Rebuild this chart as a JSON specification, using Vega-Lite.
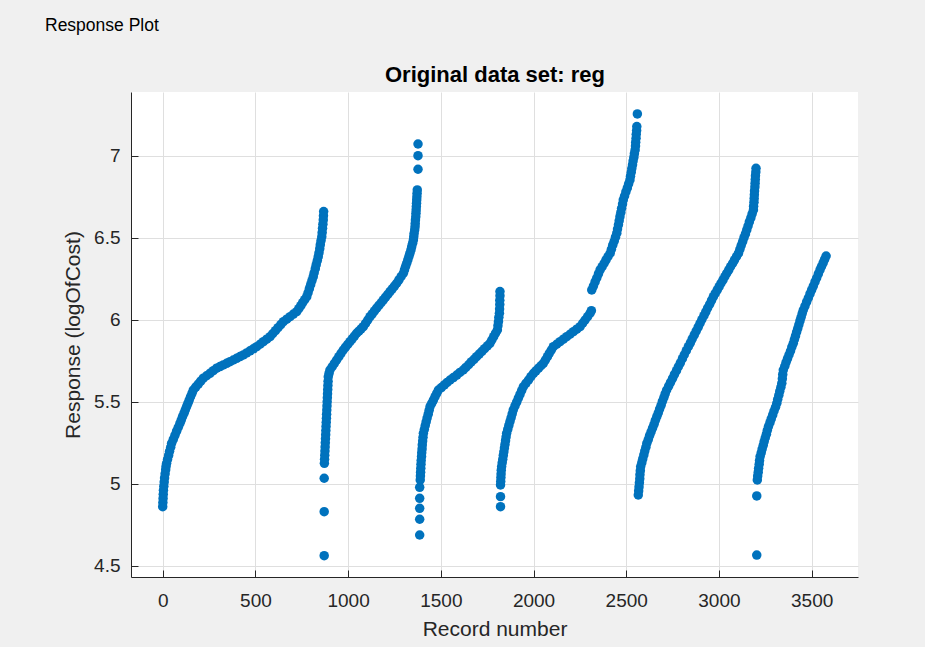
{
  "$schema": "https://vega.github.io/schema/vega-lite/v6.json",
  "width": 727,
  "height": 485,
  "autosize": {"type": "none"},
  "padding": {"left": 131, "top": 92, "right": 67, "bottom": 70},
  "background": "#f0f0f0",
  "title": {"text": "Response Plot", "anchor": "start", "frame": "group", "fontSize": 17.5, "fontWeight": "normal", "color": "#000000", "font": "Liberation Sans", "dx": -86, "offset": 29},
  "config": {"view": {"fill": "#ffffff", "stroke": null}, "font": "Liberation Sans"},
  "data": {"values": [
{"record":0,"response":4.86},{"record":1,"response":4.885},{"record":2,"response":4.91},{"record":3,"response":4.935},{"record":4,"response":4.96},{"record":6,"response":4.985},{"record":8,"response":5.01},{"record":10,"response":5.035},{"record":13,"response":5.06},{"record":16,"response":5.085},{"record":18,"response":5.105},{"record":21,"response":5.124},{"record":26,"response":5.148},{"record":32,"response":5.172},{"record":37,"response":5.197},{"record":43,"response":5.222},{"record":48,"response":5.246},{"record":57,"response":5.27},{"record":66,"response":5.295},{"record":75,"response":5.32},{"record":84,"response":5.344},{"record":93,"response":5.368},{"record":100,"response":5.388},{"record":107,"response":5.409},{"record":115,"response":5.43},{"record":122,"response":5.45},{"record":129,"response":5.47},{"record":136,"response":5.49},{"record":143,"response":5.51},{"record":150,"response":5.53},{"record":158,"response":5.551},{"record":165,"response":5.571},{"record":178,"response":5.589},{"record":192,"response":5.607},{"record":205,"response":5.625},{"record":219,"response":5.643},{"record":237,"response":5.658},{"record":255,"response":5.673},{"record":273,"response":5.689},{"record":291,"response":5.704},{"record":309,"response":5.714},{"record":327,"response":5.724},{"record":345,"response":5.734},{"record":363,"response":5.744},{"record":381,"response":5.754},{"record":399,"response":5.764},{"record":417,"response":5.775},{"record":435,"response":5.785},{"record":453,"response":5.797},{"record":471,"response":5.81},{"record":489,"response":5.822},{"record":507,"response":5.835},{"record":525,"response":5.85},{"record":543,"response":5.866},{"record":561,"response":5.881},{"record":579,"response":5.896},{"record":593,"response":5.914},{"record":608,"response":5.933},{"record":622,"response":5.951},{"record":637,"response":5.97},{"record":651,"response":5.988},{"record":669,"response":6.003},{"record":687,"response":6.018},{"record":705,"response":6.034},{"record":723,"response":6.049},{"record":734,"response":6.067},{"record":745,"response":6.085},{"record":755,"response":6.104},{"record":766,"response":6.122},{"record":777,"response":6.14},{"record":784,"response":6.164},{"record":791,"response":6.189},{"record":798,"response":6.213},{"record":805,"response":6.238},{"record":812,"response":6.262},{"record":817,"response":6.286},{"record":823,"response":6.311},{"record":828,"response":6.335},{"record":834,"response":6.36},{"record":839,"response":6.384},{"record":843,"response":6.408},{"record":847,"response":6.433},{"record":850,"response":6.457},{"record":854,"response":6.482},{"record":858,"response":6.506},{"record":860,"response":6.531},{"record":862,"response":6.557},{"record":864,"response":6.582},{"record":866,"response":6.608},{"record":867,"response":6.633},{"record":868,"response":6.659},
{"record":871,"response":4.561},{"record":871,"response":4.829},{"record":871,"response":5.033},{"record":872,"response":5.124},{"record":873,"response":5.149},{"record":874,"response":5.174},{"record":875,"response":5.199},{"record":876,"response":5.224},{"record":877,"response":5.249},{"record":878,"response":5.274},{"record":879,"response":5.299},{"record":880,"response":5.324},{"record":881,"response":5.349},{"record":882,"response":5.374},{"record":883,"response":5.399},{"record":884,"response":5.424},{"record":885,"response":5.449},{"record":886,"response":5.474},{"record":887,"response":5.499},{"record":888,"response":5.524},{"record":889,"response":5.549},{"record":890,"response":5.574},{"record":891,"response":5.599},{"record":892,"response":5.624},{"record":893,"response":5.652},{"record":897,"response":5.672},{"record":902,"response":5.693},{"record":914,"response":5.713},{"record":926,"response":5.734},{"record":938,"response":5.754},{"record":950,"response":5.774},{"record":962,"response":5.795},{"record":974,"response":5.815},{"record":986,"response":5.832},{"record":998,"response":5.849},{"record":1010,"response":5.866},{"record":1022,"response":5.883},{"record":1034,"response":5.9},{"record":1046,"response":5.917},{"record":1058,"response":5.93},{"record":1070,"response":5.944},{"record":1082,"response":5.957},{"record":1094,"response":5.977},{"record":1106,"response":5.998},{"record":1118,"response":6.018},{"record":1130,"response":6.035},{"record":1142,"response":6.053},{"record":1154,"response":6.07},{"record":1166,"response":6.087},{"record":1178,"response":6.103},{"record":1190,"response":6.12},{"record":1202,"response":6.137},{"record":1214,"response":6.154},{"record":1226,"response":6.171},{"record":1238,"response":6.188},{"record":1250,"response":6.205},{"record":1262,"response":6.222},{"record":1274,"response":6.242},{"record":1286,"response":6.263},{"record":1298,"response":6.283},{"record":1304,"response":6.303},{"record":1310,"response":6.324},{"record":1316,"response":6.344},{"record":1322,"response":6.364},{"record":1328,"response":6.385},{"record":1333,"response":6.405},{"record":1339,"response":6.425},{"record":1343,"response":6.445},{"record":1348,"response":6.466},{"record":1352,"response":6.486},{"record":1354,"response":6.506},{"record":1356,"response":6.526},{"record":1359,"response":6.547},{"record":1361,"response":6.567},{"record":1362,"response":6.587},{"record":1363,"response":6.608},{"record":1365,"response":6.628},{"record":1366,"response":6.649},{"record":1367,"response":6.669},{"record":1368,"response":6.69},{"record":1369,"response":6.71},{"record":1370,"response":6.73},{"record":1371,"response":6.75},{"record":1372,"response":6.77},{"record":1373,"response":6.791},{"record":1377,"response":6.917},{"record":1377,"response":7.0},{"record":1377,"response":7.071},
{"record":1386,"response":4.687},{"record":1386,"response":4.783},{"record":1386,"response":4.85},{"record":1386,"response":4.911},{"record":1386,"response":4.978},{"record":1389,"response":5.023},{"record":1390,"response":5.047},{"record":1391,"response":5.07},{"record":1392,"response":5.094},{"record":1393,"response":5.118},{"record":1394,"response":5.141},{"record":1396,"response":5.165},{"record":1397,"response":5.189},{"record":1399,"response":5.212},{"record":1400,"response":5.236},{"record":1402,"response":5.26},{"record":1404,"response":5.283},{"record":1406,"response":5.307},{"record":1411,"response":5.33},{"record":1416,"response":5.354},{"record":1421,"response":5.377},{"record":1426,"response":5.4},{"record":1432,"response":5.424},{"record":1437,"response":5.447},{"record":1442,"response":5.47},{"record":1451,"response":5.49},{"record":1460,"response":5.51},{"record":1469,"response":5.531},{"record":1478,"response":5.551},{"record":1487,"response":5.571},{"record":1503,"response":5.586},{"record":1519,"response":5.602},{"record":1534,"response":5.617},{"record":1550,"response":5.632},{"record":1568,"response":5.647},{"record":1586,"response":5.662},{"record":1603,"response":5.678},{"record":1621,"response":5.693},{"record":1635,"response":5.709},{"record":1650,"response":5.725},{"record":1664,"response":5.742},{"record":1679,"response":5.758},{"record":1693,"response":5.774},{"record":1707,"response":5.79},{"record":1722,"response":5.807},{"record":1736,"response":5.823},{"record":1751,"response":5.84},{"record":1765,"response":5.856},{"record":1775,"response":5.876},{"record":1785,"response":5.896},{"record":1795,"response":5.917},{"record":1805,"response":5.937},{"record":1808,"response":5.963},{"record":1811,"response":5.988},{"record":1813,"response":6.014},{"record":1816,"response":6.039},{"record":1817,"response":6.065},{"record":1818,"response":6.092},{"record":1818,"response":6.118},{"record":1819,"response":6.145},{"record":1819,"response":6.171},
{"record":1822,"response":4.86},{"record":1822,"response":4.921},{"record":1822,"response":4.992},{"record":1823,"response":5.014},{"record":1824,"response":5.037},{"record":1825,"response":5.059},{"record":1826,"response":5.082},{"record":1828,"response":5.104},{"record":1831,"response":5.127},{"record":1834,"response":5.149},{"record":1837,"response":5.172},{"record":1840,"response":5.194},{"record":1843,"response":5.217},{"record":1846,"response":5.239},{"record":1849,"response":5.262},{"record":1852,"response":5.284},{"record":1855,"response":5.307},{"record":1861,"response":5.331},{"record":1867,"response":5.355},{"record":1873,"response":5.379},{"record":1879,"response":5.402},{"record":1885,"response":5.426},{"record":1891,"response":5.45},{"record":1900,"response":5.474},{"record":1909,"response":5.497},{"record":1918,"response":5.521},{"record":1927,"response":5.544},{"record":1936,"response":5.568},{"record":1945,"response":5.591},{"record":1959,"response":5.612},{"record":1973,"response":5.632},{"record":1986,"response":5.653},{"record":2000,"response":5.673},{"record":2013,"response":5.688},{"record":2027,"response":5.704},{"record":2040,"response":5.719},{"record":2053,"response":5.734},{"record":2064,"response":5.754},{"record":2075,"response":5.774},{"record":2085,"response":5.795},{"record":2096,"response":5.815},{"record":2107,"response":5.835},{"record":2125,"response":5.85},{"record":2143,"response":5.866},{"record":2161,"response":5.881},{"record":2179,"response":5.896},{"record":2197,"response":5.911},{"record":2215,"response":5.927},{"record":2233,"response":5.942},{"record":2251,"response":5.957},{"record":2265,"response":5.978},{"record":2278,"response":5.998},{"record":2292,"response":6.019},{"record":2305,"response":6.039},{"record":2312,"response":6.055},{"record":2314,"response":6.181},{"record":2323,"response":6.205},{"record":2332,"response":6.23},{"record":2341,"response":6.254},{"record":2350,"response":6.279},{"record":2359,"response":6.303},{"record":2370,"response":6.323},{"record":2381,"response":6.344},{"record":2391,"response":6.364},{"record":2402,"response":6.385},{"record":2413,"response":6.405},{"record":2420,"response":6.429},{"record":2427,"response":6.454},{"record":2435,"response":6.478},{"record":2442,"response":6.503},{"record":2449,"response":6.527},{"record":2453,"response":6.552},{"record":2458,"response":6.578},{"record":2462,"response":6.603},{"record":2466,"response":6.628},{"record":2471,"response":6.654},{"record":2475,"response":6.679},{"record":2480,"response":6.705},{"record":2484,"response":6.73},{"record":2491,"response":6.754},{"record":2498,"response":6.779},{"record":2506,"response":6.803},{"record":2513,"response":6.828},{"record":2520,"response":6.852},{"record":2523,"response":6.875},{"record":2527,"response":6.898},{"record":2530,"response":6.921},{"record":2534,"response":6.944},{"record":2537,"response":6.967},{"record":2541,"response":6.989},{"record":2544,"response":7.012},{"record":2548,"response":7.035},{"record":2550,"response":7.059},{"record":2551,"response":7.082},{"record":2553,"response":7.106},{"record":2554,"response":7.13},{"record":2556,"response":7.153},{"record":2557,"response":7.177},{"record":2560,"response":7.254},
{"record":2565,"response":4.931},{"record":2567,"response":4.956},{"record":2569,"response":4.98},{"record":2571,"response":5.005},{"record":2573,"response":5.03},{"record":2574,"response":5.055},{"record":2576,"response":5.079},{"record":2578,"response":5.104},{"record":2584,"response":5.128},{"record":2589,"response":5.151},{"record":2595,"response":5.175},{"record":2600,"response":5.199},{"record":2606,"response":5.222},{"record":2611,"response":5.246},{"record":2619,"response":5.269},{"record":2626,"response":5.293},{"record":2634,"response":5.316},{"record":2642,"response":5.339},{"record":2650,"response":5.362},{"record":2657,"response":5.386},{"record":2665,"response":5.409},{"record":2673,"response":5.432},{"record":2680,"response":5.455},{"record":2688,"response":5.478},{"record":2695,"response":5.502},{"record":2703,"response":5.525},{"record":2710,"response":5.548},{"record":2718,"response":5.571},{"record":2729,"response":5.595},{"record":2739,"response":5.618},{"record":2750,"response":5.642},{"record":2760,"response":5.666},{"record":2771,"response":5.689},{"record":2781,"response":5.713},{"record":2792,"response":5.737},{"record":2803,"response":5.762},{"record":2813,"response":5.786},{"record":2824,"response":5.811},{"record":2835,"response":5.835},{"record":2846,"response":5.859},{"record":2856,"response":5.883},{"record":2867,"response":5.907},{"record":2877,"response":5.93},{"record":2888,"response":5.954},{"record":2898,"response":5.978},{"record":2908,"response":6.001},{"record":2919,"response":6.024},{"record":2929,"response":6.047},{"record":2939,"response":6.071},{"record":2950,"response":6.094},{"record":2960,"response":6.117},{"record":2970,"response":6.14},{"record":2980,"response":6.16},{"record":2991,"response":6.181},{"record":3001,"response":6.201},{"record":3011,"response":6.222},{"record":3022,"response":6.242},{"record":3032,"response":6.263},{"record":3042,"response":6.283},{"record":3053,"response":6.303},{"record":3063,"response":6.324},{"record":3074,"response":6.344},{"record":3084,"response":6.364},{"record":3095,"response":6.385},{"record":3105,"response":6.405},{"record":3113,"response":6.429},{"record":3120,"response":6.452},{"record":3128,"response":6.476},{"record":3135,"response":6.5},{"record":3143,"response":6.523},{"record":3150,"response":6.547},{"record":3157,"response":6.571},{"record":3164,"response":6.596},{"record":3172,"response":6.62},{"record":3179,"response":6.645},{"record":3186,"response":6.669},{"record":3187,"response":6.692},{"record":3189,"response":6.716},{"record":3190,"response":6.739},{"record":3191,"response":6.762},{"record":3192,"response":6.785},{"record":3194,"response":6.809},{"record":3195,"response":6.832},{"record":3196,"response":6.855},{"record":3197,"response":6.878},{"record":3199,"response":6.9},{"record":3200,"response":6.923},
{"record":3204,"response":4.565},{"record":3204,"response":4.925},{"record":3207,"response":5.023},{"record":3209,"response":5.047},{"record":3212,"response":5.07},{"record":3214,"response":5.094},{"record":3217,"response":5.118},{"record":3219,"response":5.141},{"record":3222,"response":5.165},{"record":3228,"response":5.188},{"record":3233,"response":5.211},{"record":3239,"response":5.234},{"record":3244,"response":5.257},{"record":3250,"response":5.28},{"record":3256,"response":5.302},{"record":3261,"response":5.325},{"record":3267,"response":5.348},{"record":3275,"response":5.372},{"record":3282,"response":5.395},{"record":3290,"response":5.419},{"record":3297,"response":5.443},{"record":3305,"response":5.466},{"record":3312,"response":5.49},{"record":3317,"response":5.514},{"record":3323,"response":5.539},{"record":3328,"response":5.563},{"record":3334,"response":5.588},{"record":3339,"response":5.612},{"record":3342,"response":5.639},{"record":3344,"response":5.666},{"record":3347,"response":5.693},{"record":3355,"response":5.716},{"record":3362,"response":5.74},{"record":3370,"response":5.763},{"record":3378,"response":5.786},{"record":3386,"response":5.809},{"record":3393,"response":5.833},{"record":3401,"response":5.856},{"record":3407,"response":5.879},{"record":3413,"response":5.901},{"record":3419,"response":5.924},{"record":3425,"response":5.946},{"record":3431,"response":5.969},{"record":3437,"response":5.992},{"record":3443,"response":6.014},{"record":3449,"response":6.037},{"record":3455,"response":6.059},{"record":3464,"response":6.083},{"record":3473,"response":6.108},{"record":3482,"response":6.132},{"record":3491,"response":6.157},{"record":3500,"response":6.181},{"record":3509,"response":6.205},{"record":3518,"response":6.23},{"record":3527,"response":6.254},{"record":3536,"response":6.279},{"record":3545,"response":6.303},{"record":3553,"response":6.324},{"record":3562,"response":6.346},{"record":3570,"response":6.367},{"record":3578,"response":6.388}
  ]},
  "resolve": {"axis": {"x": "independent"}},
  "layer": [
    {
      "mark": {"type": "point", "filled": true, "shape": "circle", "size": 90, "color": "#0072BD", "opacity": 1},
      "encoding": {
        "x": {"field": "record", "type": "quantitative", "scale": {"domain": [-171, 3750], "nice": false, "zero": false},
          "axis": {"orient": "bottom", "values": [0, 500, 1000, 1500, 2000, 2500, 3000, 3500], "format": "d", "title": "Record number",
            "labelFontSize": 19, "labelColor": "#262626", "titleFontSize": 21, "titleFontWeight": "normal", "titleColor": "#262626",
            "domainColor": "#262626", "tickColor": "#262626", "tickSize": -7, "labelPadding": 21, "titlePadding": 8,
            "grid": true, "gridColor": "#dfdfdf", "labelFlush": false}},
        "y": {"field": "response", "type": "quantitative", "scale": {"domain": [4.431, 7.388], "nice": false, "zero": false},
          "axis": {"values": [4.5, 5, 5.5, 6, 6.5, 7], "format": "~g", "title": "Response (logOfCost)",
            "labelFontSize": 19, "labelColor": "#262626", "titleFontSize": 21, "titleFontWeight": "normal", "titleColor": "#262626",
            "domainColor": "#262626", "tickColor": "#262626", "tickSize": -7, "labelPadding": 18, "titlePadding": 10,
            "grid": true, "gridColor": "#dfdfdf", "labelFlush": false}}
      }
    },
    {
      "mark": {"type": "point", "opacity": 0},
      "encoding": {
        "x": {"field": "record", "type": "quantitative",
          "axis": {"orient": "top", "title": "Original data set: reg", "labels": false, "ticks": false, "domain": false, "grid": false,
            "titleFontSize": 22, "titleFontWeight": "bold", "titleColor": "#000000", "titlePadding": 6}},
        "y": {"field": "response", "type": "quantitative"}
      }
    }
  ]
}
